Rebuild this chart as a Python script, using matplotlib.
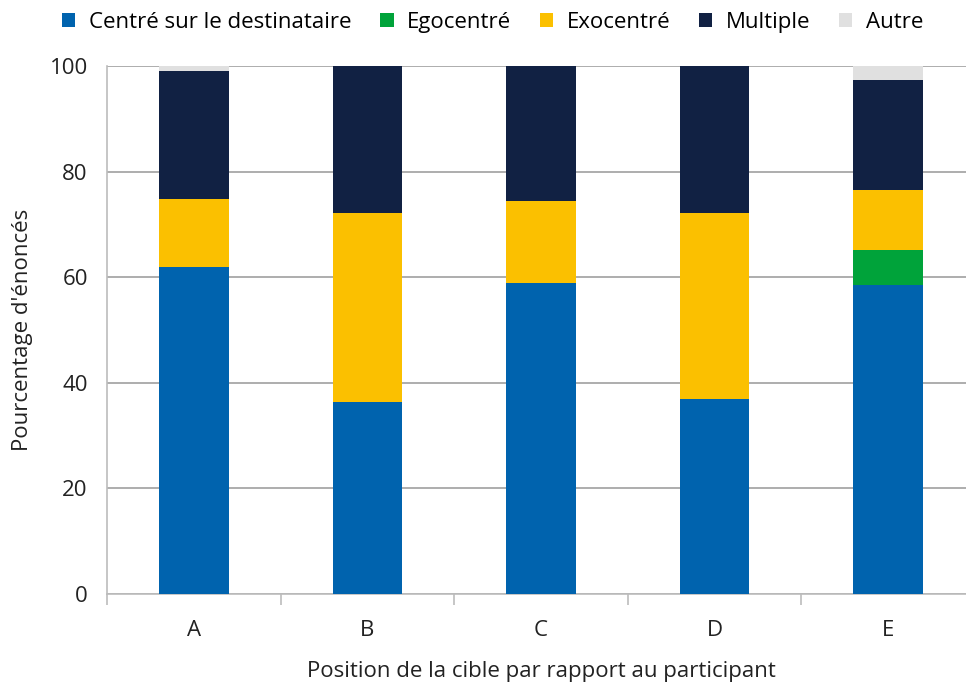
#!/usr/bin/env python3
"""Stacked bar chart: reference frame used per target position."""

import matplotlib

matplotlib.use("Agg")
import matplotlib.pyplot as plt
import numpy as np
from matplotlib.patches import Patch

positions = ["A", "B", "C", "D", "E"]
series_names = ["Centré sur le destinataire", "Egocentré", "Exocentré", "Multiple", "Autre"]

centre_dest = [61.9, 36.4, 58.9, 37.0, 58.6]
egocentre = [0.0, 0.0, 0.0, 0.0, 6.5]
exocentre = [13.0, 35.7, 15.6, 35.2, 11.4]
multiple = [24.2, 27.9, 25.5, 27.8, 20.8]
autre = [0.9, 0.0, 0.0, 0.0, 2.7]

colors = ["#0063ae", "#00a33a", "#fbc000", "#112143", "#e0e0e0"]

plt.rcParams["font.family"] = ["Open Sans", "DejaVu Sans"]

fig = plt.figure(figsize=(9.66, 6.82), dpi=100)
# right edge of the plot runs slightly past the figure border
ax = fig.add_axes([0.111, 0.129, 0.898, 0.774])

x = np.arange(len(positions))
bottom = np.zeros(len(positions))
for name, vals, col in zip(series_names,
                           [centre_dest, egocentre, exocentre, multiple, autre],
                           colors):
    vals = np.array(vals)
    ax.bar(x, vals, width=0.4, bottom=bottom, color=col, label=name,
           zorder=3, edgecolor="none")
    bottom += vals

ax.set_xlim(-0.5, len(positions) - 0.5)
ax.set_ylim(0, 100)
ax.set_yticks([0, 20, 40, 60, 80, 100])
ax.yaxis.grid(True, color="#a0a0a0", linewidth=1.2, zorder=0)
ax.set_axisbelow(True)

for side in ["top", "right"]:
    ax.spines[side].set_visible(False)
ax.spines["left"].set_color("#bcbcbc")
ax.spines["bottom"].set_color("#bcbcbc")
ax.spines["left"].set_linewidth(1.2)
ax.spines["bottom"].set_linewidth(1.2)

ax.tick_params(axis="y", length=0, labelsize=16, pad=14, colors="#222222")
ax.set_xticks(x)
ax.set_xticklabels(positions)
ax.tick_params(axis="x", length=0, labelsize=16, pad=19, colors="#222222")
# category boundary ticks on the x axis
ax.set_xticks(np.arange(-0.5, len(positions)), minor=True)
ax.tick_params(axis="x", which="minor", length=8, color="#bcbcbc", width=1.2)

ax.set_ylabel("Pourcentage d'énoncés", fontsize=16, labelpad=12, color="#222222")
ax.set_xlabel("Position de la cible par rapport au participant", fontsize=16,
              labelpad=14, color="#222222")

handles = [Patch(facecolor=c, label=n) for n, c in zip(series_names, colors)]
fig.legend(handles=handles, loc="upper center", bbox_to_anchor=(0.51, 1.012),
           ncol=5, frameon=False, fontsize=16, handlelength=0.6,
           handleheight=0.6, handletextpad=0.6, columnspacing=1.3)

fig.savefig("out.png", dpi=100)
